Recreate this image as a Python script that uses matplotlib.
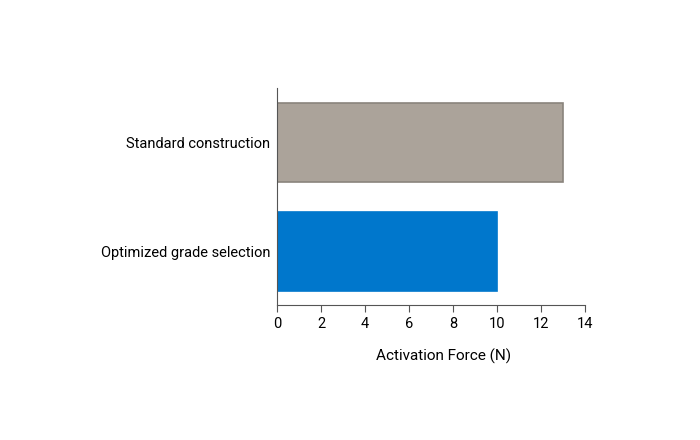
import matplotlib
matplotlib.use("Agg")
import matplotlib.pyplot as plt

plt.rcParams['font.family'] = ['Roboto', 'DejaVu Sans']

categories = ["Optimized grade selection", "Standard construction"]
values = [10, 13]
colors = ["#0077cc", "#aba39a"]
edges = ["#0077cc", "#8a847d"]

fig = plt.figure(figsize=(7, 4.4), dpi=100)
ax = fig.add_axes([277/700, 1 - 305/440, (585-277)/700, (305-88)/440])

ax.barh(range(len(categories)), values, height=0.73, color=colors,
        edgecolor=edges, linewidth=1.2)

ax.set_xlim(0, 14)
ax.set_ylim(-0.49, 1.5)
ax.set_xticks(range(0, 15, 2))
ax.set_yticks(range(len(categories)))
ax.set_yticklabels(categories, fontsize=10.5)
ax.tick_params(axis='x', labelsize=10.5, length=5, color='#555555')
ax.tick_params(axis='y', length=0, pad=5)
ax.set_xlabel("Activation Force (N)", fontsize=11)
ax.xaxis.set_label_coords(0.542, -0.2)

for s in ['top', 'right']:
    ax.spines[s].set_visible(False)
for s in ['left', 'bottom']:
    ax.spines[s].set_color('#555555')

fig.savefig("out.png", dpi=100)
